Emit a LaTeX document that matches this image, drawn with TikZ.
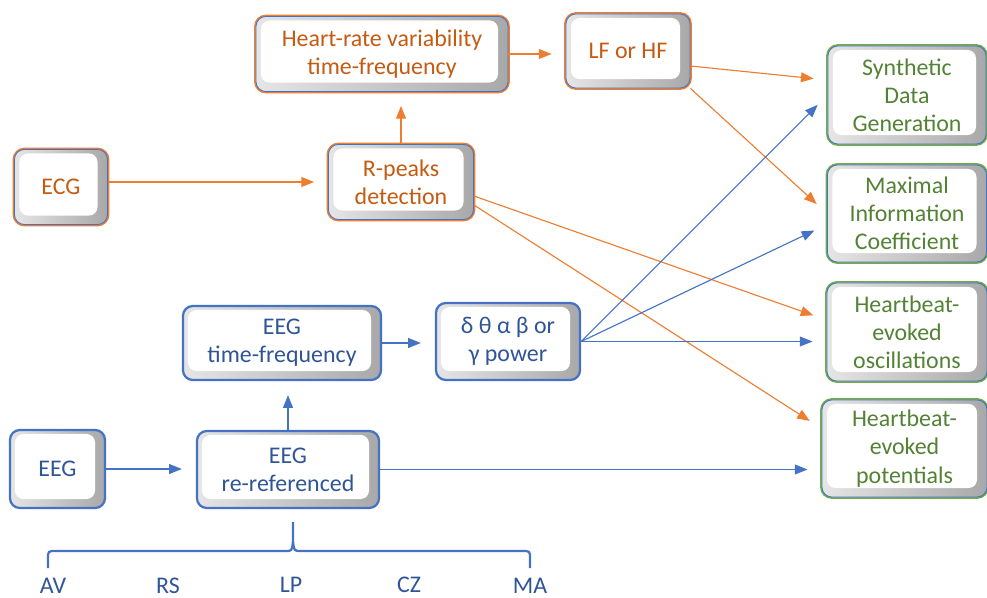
\documentclass[tikz,border=0pt]{standalone}
\usepackage{fontspec}
\setmainfont{Carlito}
\usetikzlibrary{arrows.meta}

\definecolor{ecgline}{RGB}{237,125,49}
\definecolor{ecgtext}{RGB}{197,90,17}
\definecolor{eegline}{RGB}{68,114,196}
\definecolor{eegtext}{RGB}{47,85,151}
\definecolor{outline}{RGB}{112,173,71}
\definecolor{outtext}{RGB}{84,130,53}

\begin{document}
\begin{tikzpicture}[x=0.025cm, y=-0.025cm,
  keycap/.style={rounded corners=7pt, align=center, inner sep=2pt,
    font=\fontsize{17}{20}\selectfont, fill=gray!55,
    path picture={
      \fill[left color=gray!20, right color=gray!68]
        (path picture bounding box.south west) rectangle (path picture bounding box.north east);
      \fill[white, rounded corners=6pt]
        ([xshift=0.125cm, yshift=-0.1cm]path picture bounding box.north west) rectangle
        ([xshift=-0.25cm, yshift=0.225cm]path picture bounding box.south east);
    }},
  ecgbox/.style={keycap, text=ecgtext, draw=eegline, line width=0.6pt,
    preaction={draw=ecgline, line width=2.6pt}},
  outbox/.style={keycap, text=outtext, draw=eegline, line width=0.6pt,
    preaction={draw=outline, line width=2.6pt}},
  eegbox/.style={keycap, text=eegtext, draw=eegline, line width=1.6pt},
  ecgarrow/.style={draw=ecgline, line width=0.8pt, -{Triangle[length=9pt, width=7pt]}, shorten >=0.35cm},
  eegarrow/.style={draw=eegline, line width=0.8pt, -{Triangle[length=9pt, width=7pt]}, shorten >=0.35cm},
  reflabel/.style={text=eegtext, inner sep=0pt, font=\fontsize{17}{20}\selectfont}
]

\useasboundingbox (0,0) rectangle (987,598);

% ECG branch
\node[ecgbox, minimum width=6.3cm, minimum height=1.875cm] (hrv) at (382,54) {Heart-rate variability\\time-frequency};
\node[ecgbox, minimum width=3.1cm, minimum height=1.85cm] (lfhf) at (628,51) {LF or HF};
\node[ecgbox, minimum width=2.325cm, minimum height=1.875cm] (ecg) at (61,187) {ECG};
\node[ecgbox, minimum width=3.625cm, minimum height=1.875cm] (rpeaks) at (401,182) {R-peaks\\detection};

% outputs
\node[outbox, minimum width=3.95cm, minimum height=2.45cm] (synth) at (907,95) {Synthetic\\Data\\Generation};
\node[outbox, minimum width=3.975cm, minimum height=2.425cm] (mic) at (907,213.5) {Maximal\\Information\\Coefficient};
\node[outbox, minimum width=4cm, minimum height=2.45cm] (heo) at (907,332) {Heartbeat-\\evoked\\oscillations};
\node[outbox, minimum width=4.125cm, minimum height=2.425cm] (hep) at (904.5,448.5) {Heartbeat-\\evoked\\potentials};

% EEG branch
\node[eegbox, minimum width=4.95cm, minimum height=1.85cm] (eegtf) at (282,343) {EEG\\time-frequency};
\node[eegbox, minimum width=3.6cm, minimum height=1.925cm] (band) at (508,341.5) {δ θ α β or\\γ power};
\node[eegbox, minimum width=2.375cm, minimum height=1.95cm] (eeg) at (57.5,469) {EEG};
\node[eegbox, minimum width=4.55cm, minimum height=1.925cm] (reref) at (288,469.5) {EEG\\re-referenced};

% orange arrows
\draw[ecgarrow] (ecg.east |- rpeaks) -- (rpeaks.west);
\draw[ecgarrow] (rpeaks.north) -- (rpeaks.north |- hrv.south);
\draw[ecgarrow] (hrv.east) -- (hrv.east -| lfhf.west);
\draw[ecgarrow] ([yshift=-0.375cm]lfhf.east) -- ([yshift=0.375cm]synth.west);
\draw[ecgarrow] (lfhf.south east) -- (mic.west);
\draw[ecgarrow] ([yshift=-0.35cm]rpeaks.east) -- ([yshift=0.3cm]heo.west);
\draw[ecgarrow] ([yshift=-0.575cm]rpeaks.east) -- ([yshift=0.5cm]hep.west);

% blue arrows
\draw[eegarrow] (band.east) -- (synth.west);
\draw[eegarrow] (band.east) -- ([yshift=-0.275cm]mic.west);
\draw[eegarrow] (band.east) -- (band.east -| heo.west);
\draw[eegarrow] (eegtf.east) -- (eegtf.east -| band.west);
\draw[eegarrow] (reref.north) -- (reref.north |- eegtf.south);
\draw[eegarrow] (eeg.east) -- (eeg.east -| reref.west);
\draw[eegarrow] (reref.east) -- (reref.east -| hep.west);

% reference choices
\draw[eegline, line width=1.6pt] (48,568) -- (48,559) .. controls (48,551) .. (56,551) -- (285,551)
  .. controls (292,551) .. (293,541) -- (293,522) -- (293,541) .. controls (294,551) .. (301,551)
  -- (522,551) .. controls (530,551) .. (530,559) -- (530,568);

\node[reflabel] (av) at (53,586) {AV};
\node[reflabel] (rs) at (168,586) {RS};
\node[reflabel] (lp) at (291,585) {LP};
\node[reflabel] (cz) at (409,585) {CZ};
\node[reflabel] (ma) at (530,586) {MA};

\end{tikzpicture}
\end{document}
